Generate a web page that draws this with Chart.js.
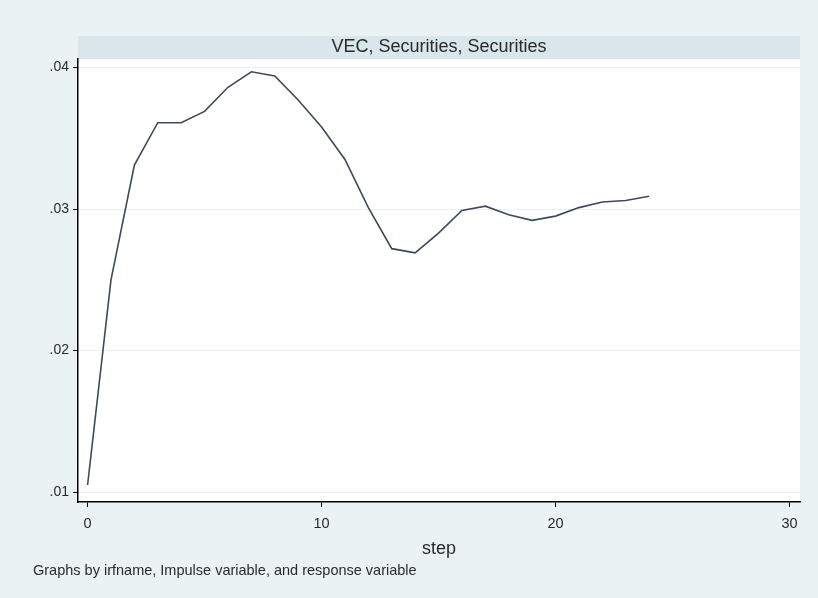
<!DOCTYPE html>
<html>
<head>
<meta charset="utf-8">
<title>VEC, Securities, Securities</title>
<script src="https://cdn.jsdelivr.net/npm/chart.js@4.4.1/dist/chart.umd.min.js"></script>
<style>
  html, body { margin: 0; padding: 0; background: #eaf2f3; }
  #irf { display: block; }
</style>
</head>
<body>
<canvas id="irf" width="818" height="598"></canvas>
<script>
// impulse response, steps 0..24
const steps = [0, 1, 2, 3, 4, 5, 6, 7, 8, 9, 10, 11, 12, 13, 14, 15, 16, 17, 18, 19, 20, 21, 22, 23, 24];
const response = [0.0105, 0.0250, 0.0331, 0.0361, 0.0361, 0.0369, 0.0386, 0.0397, 0.0394, 0.0377,
                  0.0358, 0.0335, 0.0301, 0.0272, 0.0269, 0.0283, 0.0299, 0.0302, 0.0296, 0.0292,
                  0.0295, 0.0301, 0.0305, 0.0306, 0.0309];
const yTicks = [0.01, 0.02, 0.03, 0.04];
const xTicks = [0, 10, 20, 30];
const panelTitle = 'VEC, Securities, Securities';
const xTitle = 'step';
const footNote = 'Graphs by irfname, Impulse variable, and response variable';

const FONT = 'Arial, "Liberation Sans", sans-serif';

// stata-like panel: grey-blue page, white plot region, title strip on top
const panelPlugin = {
    id: 'panel',
    beforeDraw(chart) {
        const ctx = chart.ctx;
        const a = chart.chartArea;
        ctx.save();
        ctx.fillStyle = '#eaf2f3';
        ctx.fillRect(0, 0, chart.width, chart.height);
        ctx.fillStyle = '#ffffff';
        ctx.fillRect(a.left, a.top, a.right - a.left, a.bottom - a.top);
        ctx.fillStyle = '#d9e6eb';
        ctx.fillRect(a.left, 36, a.right - a.left, a.top - 36);
        ctx.fillStyle = '#2a2a2a';
        ctx.font = '18px ' + FONT;
        ctx.textAlign = 'center';
        ctx.textBaseline = 'middle';
        ctx.fillText(panelTitle, (a.left + a.right) / 2, 47);
        ctx.restore();
    },
    afterDraw(chart) {
        const ctx = chart.ctx;
        ctx.save();
        ctx.fillStyle = '#2a2a2a';
        ctx.font = '14.5px ' + FONT;
        ctx.textAlign = 'left';
        ctx.textBaseline = 'middle';
        ctx.fillText(footNote, 33, 571);
        ctx.restore();
    }
};

new Chart(document.getElementById('irf'), {
    type: 'line',
    data: {
        datasets: [{
            data: steps.map((s, i) => ({ x: s, y: response[i] })),
            borderColor: '#3e4a58',
            borderWidth: 1.6,
            pointRadius: 0,
            tension: 0,
            fill: false
        }]
    },
    options: {
        responsive: false,
        devicePixelRatio: 1,
        animation: false,
        layout: { padding: { left: 0, top: 59, right: 18, bottom: 38 } },
        plugins: {
            legend: { display: false },
            title: { display: false },
            tooltip: { enabled: false }
        },
        scales: {
            x: {
                type: 'linear',
                min: -0.41,
                max: 30.45,
                afterBuildTicks: scale => { scale.ticks = xTicks.map(v => ({ value: v })); },
                afterFit: scale => { scale.height = 58; },
                border: { color: '#000', width: 1.5 },
                grid: { drawOnChartArea: false, drawTicks: true, tickLength: 5, tickColor: '#000' },
                ticks: {
                    color: '#2a2a2a',
                    padding: 8,
                    maxRotation: 0,
                    font: { family: FONT, size: 14.5 },
                    callback: v => String(v)
                },
                title: {
                    display: true,
                    text: xTitle,
                    color: '#2a2a2a',
                    font: { family: FONT, size: 18 },
                    padding: { top: 0, bottom: 0 }
                }
            },
            y: {
                min: 0.0093,
                max: 0.0406,
                afterBuildTicks: scale => { scale.ticks = yTicks.map(v => ({ value: v })); },
                afterFit: scale => { scale.width = 78; },
                border: { color: '#000', width: 1.5 },
                grid: { color: '#eaf0f2', lineWidth: 1, tickLength: 5, tickColor: '#000' },
                ticks: {
                    color: '#2a2a2a',
                    padding: 4,
                    font: { family: FONT, size: 14 },
                    callback: v => v.toFixed(2).replace(/^0/, '')
                }
            }
        }
    },
    plugins: [panelPlugin]
});
</script>
</body>
</html>
